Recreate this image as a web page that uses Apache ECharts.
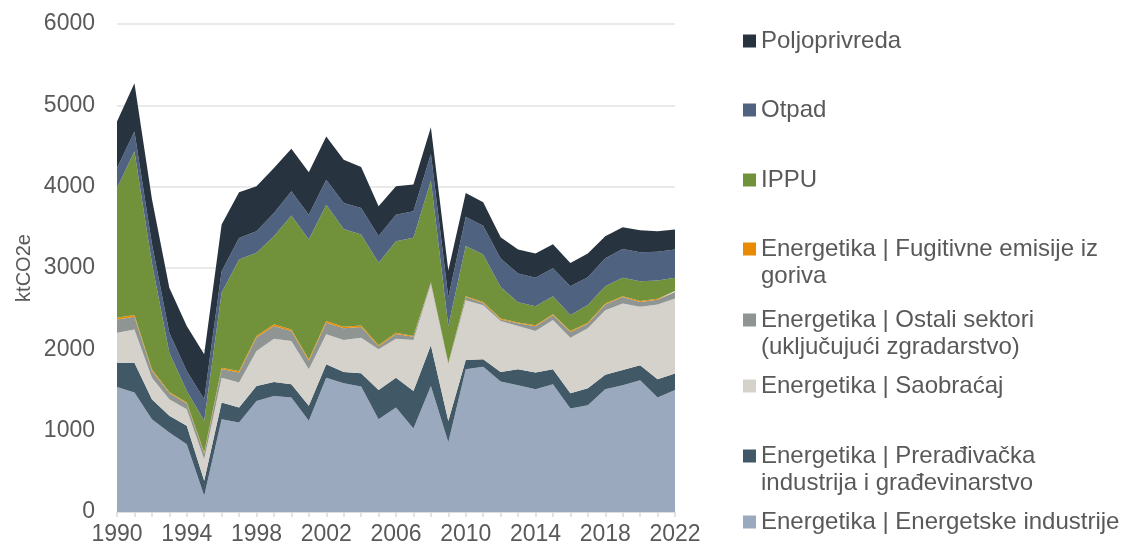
<!DOCTYPE html>
<html>
<head>
<meta charset="utf-8">
<title>Emisije po sektorima</title>
<script src="https://cdn.jsdelivr.net/npm/echarts@6/dist/echarts.min.js"></script>
<style>
    html, body { margin: 0; padding: 0; background: #fff; }
    #container { width: 1121px; height: 551px; }
</style>
</head>
<body>
<div id="container"></div>
<script>
// godine
var years = ['1990', '1991', '1992', '1993', '1994', '1995', '1996', '1997', '1998', '1999', '2000',
    '2001', '2002', '2003', '2004', '2005', '2006', '2007', '2008', '2009', '2010', '2011',
    '2012', '2013', '2014', '2015', '2016', '2017', '2018', '2019', '2020', '2021', '2022'];

// ktCO2e po sektorima, odozdo prema gore
var energetske = [1538, 1468, 1141, 977, 834, 200, 1141, 1100, 1366, 1427, 1407,
    1121, 1652, 1583, 1542, 1141, 1284, 1027, 1550, 858, 1755, 1787,
    1603, 1558, 1509, 1571, 1272, 1313, 1509, 1558, 1620, 1407, 1501];
var preradjivacka = [298, 368, 246, 205, 225, 184, 205, 184, 184, 172, 164,
    184, 164, 139, 164, 360, 368, 462, 499, 262, 114, 90,
    119, 197, 205, 184, 188, 208, 180, 188, 184, 225, 201];
var saobracaj = [368, 409, 265, 205, 205, 266, 306, 307, 430, 532, 531,
    450, 368, 393, 437, 501, 479, 626, 750, 696, 736, 664,
    626, 531, 511, 605, 683, 737, 793, 818, 720, 920, 924];
var ostali = [164, 155, 85, 75, 70, 70, 105, 125, 165, 156, 123,
    105, 144, 143, 131, 36, 57, 40, 20, 15, 37, 30,
    20, 35, 60, 60, 70, 57, 70, 78, 57, 58, 78];
var fugitivne = [21, 21, 18, 14, 12, 12, 18, 18, 19, 20, 20,
    17, 20, 20, 20, 12, 16, 10, 5, 5, 12, 12,
    12, 10, 10, 10, 12, 12, 12, 12, 12, 12, 12];
var ippu = [1595, 2013, 1305, 483, 143, 389, 920, 1370, 1022, 1084, 1399,
    1473, 1431, 1203, 1117, 1014, 1125, 1206, 1250, 452, 618, 583,
    385, 249, 236, 224, 196, 217, 213, 226, 245, 225, 164];
var otpad = [245, 245, 240, 245, 245, 266, 266, 266, 266, 286, 299,
    306, 307, 319, 327, 328, 327, 327, 328, 352, 356, 355,
    352, 353, 349, 344, 356, 343, 344, 355, 356, 352, 347];
var poljoprivreda = [573, 593, 550, 553, 552, 552, 573, 560, 552, 552, 523,
    520, 532, 531, 503, 368, 348, 328, 327, 330, 294, 287,
    261, 294, 298, 294, 286, 291, 270, 266, 270, 253, 245];

var seriesNames = [
    'Energetika | Energetske industrije',
    'Energetika | Prerađivačka industrija i građevinarstvo',
    'Energetika | Saobraćaj',
    'Energetika | Ostali sektori (uključujući zgradarstvo)',
    'Energetika | Fugitivne emisije iz goriva',
    'IPPU',
    'Otpad',
    'Poljoprivreda'
];
var seriesData = [energetske, preradjivacka, saobracaj, ostali, fugitivne, ippu, otpad, poljoprivreda];
var seriesColors = ['#9aa9be', '#415867', '#d4d2cb', '#8f9592', '#e88b00', '#71923a', '#4f6280', '#27333f'];

// tekst legende (prelom kao u originalu); prazan prvi red drzi ikonu uz prvi red teksta
var legendText = {
    'Energetika | Fugitivne emisije iz goriva': '\nEnergetika | Fugitivne emisije iz\ngoriva',
    'Energetika | Ostali sektori (uključujući zgradarstvo)': '\nEnergetika | Ostali sektori\n(uključujući zgradarstvo)',
    'Energetika | Prerađivačka industrija i građevinarstvo': '\nEnergetika | Prerađivačka\nindustrija i građevinarstvo'
};
// centar ikone za svaku stavku legende
var legendIconY = {
    'Poljoprivreda': 41,
    'Otpad': 110,
    'IPPU': 180,
    'Energetika | Fugitivne emisije iz goriva': 249,
    'Energetika | Ostali sektori (uključujući zgradarstvo)': 320,
    'Energetika | Saobraćaj': 386,
    'Energetika | Prerađivačka industrija i građevinarstvo': 456,
    'Energetika | Energetske industrije': 522
};

var textColor = '#595959';
var fontFamily = 'Liberation Sans, Arial, sans-serif';
var lineH = 27;

function buildLegends() {
    var legends = [];
    for (var i = seriesNames.length - 1; i >= 0; i--) {
        var name = seriesNames[i];
        var twoLines = !!legendText[name];
        legends.push({
            data: [name],
            left: 743,
            top: legendIconY[name] - (twoLines ? lineH * 1.5 : lineH / 2),
            padding: 0,
            itemWidth: 13,
            itemHeight: 13,
            icon: 'rect',
            selectedMode: false,
            formatter: function (n) {
                return legendText[n] || n;
            },
            textStyle: {
                color: textColor,
                fontSize: 24,
                fontFamily: fontFamily,
                lineHeight: lineH
            }
        });
    }
    return legends;
}

function buildSeries() {
    var list = [];
    for (var i = 0; i < seriesNames.length; i++) {
        list.push({
            name: seriesNames[i],
            type: 'line',
            stack: 'ukupno',
            symbol: 'none',
            lineStyle: { width: 0 },
            areaStyle: { color: seriesColors[i], opacity: 1 },
            itemStyle: { color: seriesColors[i] },
            z: 2,
            data: seriesData[i]
        });
    }
    return list;
}

var chart = echarts.init(document.getElementById('container'), null, { renderer: 'canvas' });
var option = {
    animation: false,
    backgroundColor: '#ffffff',
    textStyle: { fontFamily: fontFamily },
    grid: {
        left: 117,
        right: 446,
        top: 24,
        bottom: 39
    },
    legend: buildLegends(),
    xAxis: {
        type: 'category',
        boundaryGap: false,
        data: years,
        axisLine: { lineStyle: { color: '#d9d9d9', width: 1.5 } },
        axisTick: { show: true, interval: 0, length: 5, lineStyle: { color: '#d9d9d9', width: 1.5 } },
        axisLabel: {
            interval: 3,
            color: textColor,
            fontSize: 23,
            margin: 11,
            fontFamily: fontFamily
        },
        splitLine: { show: false }
    },
    yAxis: {
        type: 'value',
        min: 0,
        max: 6000,
        interval: 1000,
        name: 'ktCO2e',
        nameLocation: 'middle',
        nameGap: 83,
        nameTextStyle: { color: textColor, fontSize: 20, fontFamily: fontFamily },
        axisLine: { show: false },
        axisTick: { show: false },
        axisLabel: {
            color: textColor,
            fontSize: 23,
            margin: 22,
            fontFamily: fontFamily,
            formatter: function (v) { return String(v); }
        },
        splitLine: { lineStyle: { color: '#e3e3e3', width: 1.5 } }
    },
    series: buildSeries()
};
chart.setOption(option);
</script>
</body>
</html>
